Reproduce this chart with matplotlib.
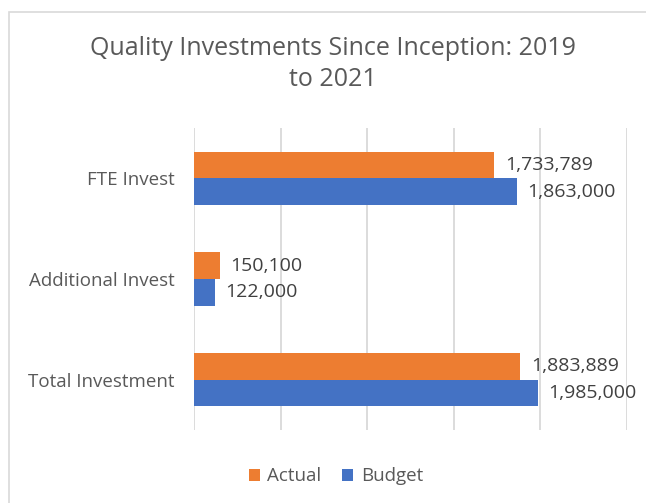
import numpy as np
import matplotlib.pyplot as plt
from matplotlib.patches import Rectangle

categories = ["FTE Invest", "Additional Invest", "Total Investment"]
actual = [1733789, 150100, 1883889]
budget = [1863000, 122000, 1985000]
series_names = ["Actual", "Budget"]
colors = ["#ED7D31", "#4472C4"]

plt.rcParams['font.family'] = ['Open Sans', 'DejaVu Sans']

fig = plt.figure(figsize=(6.46, 5.03), dpi=100)
ax = fig.add_axes([0.3003, 0.1451, 0.6703, 0.6004])

# light border round the chart area
fig.patches.append(Rectangle((9 / 646, -0.1), 1.2, 1 - 12 / 503 + 0.1,
                             transform=fig.transFigure, fill=False,
                             edgecolor="#D9D9D9", linewidth=1.2))

y = np.arange(len(categories))
h = 0.265
ax.barh(y - h / 2, actual, height=h, color=colors[0], label=series_names[0], zorder=3)
ax.barh(y + h / 2, budget, height=h, color=colors[1], label=series_names[1], zorder=3)

for yi, a, b in zip(y, actual, budget):
    ax.annotate(f"{a:,}", (a, yi - h / 2), xytext=(7.5, 0), textcoords="offset points",
                va="center", ha="left", fontsize=14, color="#404040")
    ax.annotate(f"{b:,}", (b, yi + h / 2), xytext=(7.5, 0), textcoords="offset points",
                va="center", ha="left", fontsize=14, color="#404040")

ax.set_xlim(0, 2500000)
ax.set_ylim(2.5, -0.5)
ax.set_xticks(np.arange(0, 2500001, 500000))
ax.set_xticklabels([])
ax.set_yticks(y)
ax.set_yticklabels(categories, fontsize=13.5, color="#595959")
ax.tick_params(axis="both", length=0)
ax.tick_params(axis="y", pad=14)
ax.grid(axis="x", color="#D9D9D9", linewidth=1.3, zorder=0)
for s in ax.spines.values():
    s.set_visible(False)

fig.text(0.515, 0.873, "Quality Investments Since Inception: 2019\nto 2021",
         ha="center", va="center", fontsize=18, color="#595959", linespacing=1.3)

fig.legend(loc="center", bbox_to_anchor=(0.52, 0.053), ncol=2, frameon=False,
           fontsize=13.5, handlelength=0.6, handleheight=0.6, handletextpad=0.4,
           columnspacing=1.1, labelcolor="#595959")

fig.savefig("out.png", dpi=100)
